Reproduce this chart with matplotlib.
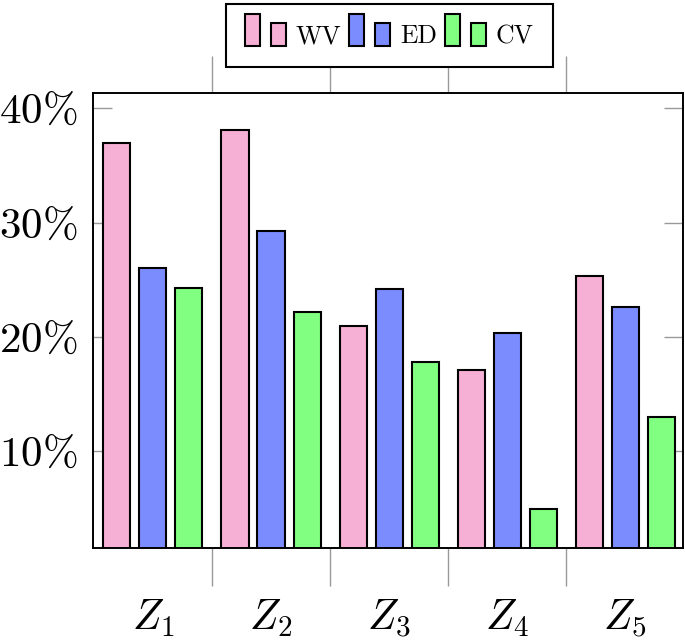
import numpy as np
import matplotlib
matplotlib.use("Agg")
import matplotlib.pyplot as plt
from matplotlib.patches import Rectangle
from matplotlib.legend_handler import HandlerBase

plt.rcParams['mathtext.fontset'] = 'cm'
plt.rcParams['font.family'] = ['cmr10', 'DejaVu Serif']

groups = [r'$Z_1$', r'$Z_2$', r'$Z_3$', r'$Z_4$', r'$Z_5$']
series = ['WV', 'ED', 'CV']
wv = [37.0, 38.1, 21.0, 17.1, 25.3]
ed = [26.0, 29.3, 24.2, 20.4, 22.6]
cv = [24.3, 22.2, 17.8, 5.0, 13.0]
yticks = [10, 20, 30, 40]
ytick_labels = [r'$10\%$', r'$20\%$', r'$30\%$', r'$40\%$']

colors = ['#F7B0D5', '#7B8CFF', '#80FF80']


class TwoBarHandler(HandlerBase):
    # pgfplots style ybar legend: one tall and one short bar
    def create_artists(self, legend, orig_handle, xdescent, ydescent,
                       width, height, fontsize, trans):
        fc = orig_handle.get_facecolor()
        w = width * 0.37
        y0 = -ydescent
        r1 = Rectangle((-xdescent, y0), w, height * 1.4,
                       facecolor=fc, edgecolor='black', lw=1.5, transform=trans)
        r2 = Rectangle((-xdescent + width * 0.63, y0), w, height * 0.98,
                       facecolor=fc, edgecolor='black', lw=1.5, transform=trans)
        return [r1, r2]


fig = plt.figure(figsize=(6.85, 6.43), dpi=100)
ax = fig.add_axes([93 / 685, 1 - 548 / 643, 590 / 685, 455 / 643])

x = np.arange(len(groups))
off = 0.305
bw = 0.229
handles = []
for i, (vals, c) in enumerate(zip([wv, ed, cv], colors)):
    b = ax.bar(x + (i - 1) * off, vals, bw, color=c, edgecolor='black', lw=1.5,
               label=series[i], zorder=3)
    handles.append(b[0])

ax.set_xlim(-0.508, 4.49)
ax.set_ylim(1.55, 41.35)

ax.set_yticks(yticks)
ax.set_yticklabels(ytick_labels, fontsize=31)
ax.tick_params(axis='y', direction='in', length=14, width=1, color='#999999',
               right=True, pad=11)

ax.set_xticks(x[:-1] + 0.5)
ax.set_xticklabels([])
ax.tick_params(axis='x', which='major', direction='out', length=27, width=1,
               color='#999999', top=True)
ax.set_xticks(x, minor=True)
ax.set_xticklabels(groups, minor=True, fontsize=30)
ax.tick_params(axis='x', which='minor', length=0, pad=36)

for s in ax.spines.values():
    s.set_linewidth(1.4)
    s.set_zorder(4)

leg = fig.legend(handles, series, loc='center', bbox_to_anchor=(0.568, 0.9448), ncol=3,
                 fontsize=18.5, frameon=True, fancybox=False, edgecolor='black',
                 framealpha=1, handler_map={h: TwoBarHandler() for h in handles},
                 handlelength=1.6, handleheight=0.98, handletextpad=0.38,
                 columnspacing=0.3, borderpad=0.75, borderaxespad=0)
leg.get_frame().set_linewidth(1.5)

fig.savefig('out.png', dpi=100)
